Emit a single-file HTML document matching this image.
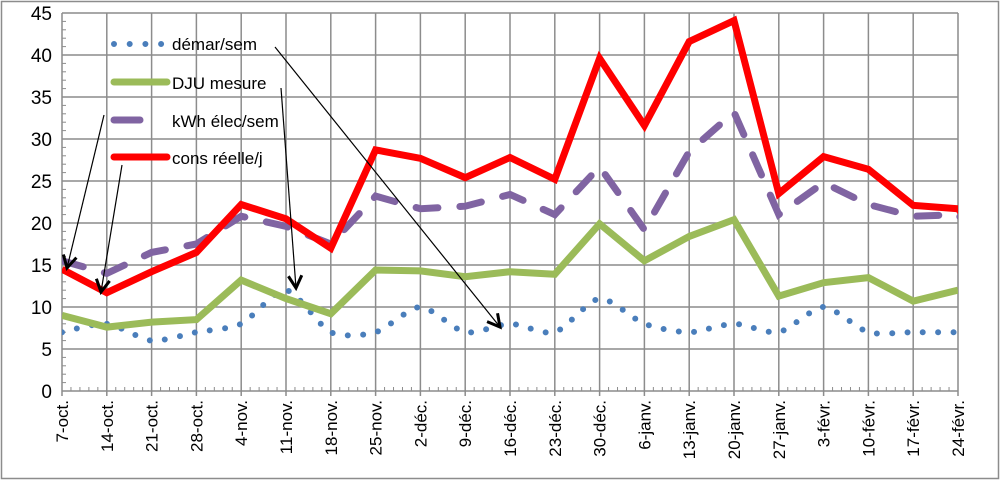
<!DOCTYPE html>
<html><head><meta charset="utf-8"><style>
html,body{margin:0;padding:0;background:#fff;}
svg{display:block;font-family:"Liberation Sans",sans-serif;}
</style></head><body>
<svg id="s" width="1000" height="480" xmlns="http://www.w3.org/2000/svg">
<rect x="1.5" y="1.5" width="997" height="477" fill="#fff" stroke="#8c8c8c" stroke-width="1.5"/>
<g id="grid"></g>
<g id="series"></g>
<g id="legend" font-size="17" fill="#000">
 <line x1="114" y1="44" x2="162" y2="44" stroke="#4a7ebb" stroke-width="6" stroke-linecap="round" stroke-dasharray="0 15.7"/>
 <text x="172" y="50">démar/sem</text>
 <line x1="114" y1="82" x2="167" y2="82" stroke="#9bbb59" stroke-width="7" stroke-linecap="round"/>
 <text x="172" y="89">DJU mesure</text>
 <line x1="114" y1="120" x2="140" y2="120" stroke="#8064a2" stroke-width="7" stroke-linecap="round"/>
 <text x="172" y="127">kWh élec/sem</text>
 <line x1="114" y1="157" x2="167" y2="157" stroke="#ff0000" stroke-width="7" stroke-linecap="round"/>
 <text x="172" y="164">cons réelle/j</text>
</g>
<g id="arrows" stroke="#000" fill="none"></g>
</svg>
<script>
const X0=62,DX=44.8,Y0=391,K=8.4;
const xs=i=>X0+i*DX, ys=v=>Y0-v*K;
const ns="http://www.w3.org/2000/svg";
function el(p,t,a,txt){const e=document.createElementNS(ns,t);for(const k in a)e.setAttribute(k,a[k]);if(txt!=null)e.textContent=txt;p.appendChild(e);return e;}
const g=document.getElementById('grid');
for(let v=0;v<=45;v+=5){el(g,'line',{x1:X0,x2:958,y1:ys(v),y2:ys(v),stroke:'#8c8c8c','stroke-width':1.5});
 el(g,'text',{x:52,y:ys(v)+7,'text-anchor':'end','font-size':19},String(v));}
for(let v=0;v<=45;v++){el(g,'line',{x1:X0,x2:X0+4,y1:ys(v),y2:ys(v),stroke:'#8c8c8c'});}
const labs=["7-oct.","14-oct.","21-oct.","28-oct.","4-nov.","11-nov.","18-nov.","25-nov.","2-déc.","9-déc.","16-déc.","23-déc.","30-déc.","6-janv.","13-janv.","20-janv.","27-janv.","3-févr.","10-févr.","17-févr.","24-févr."];
labs.forEach((l,i)=>{const x=xs(i);
 el(g,'line',{x1:x,x2:x,y1:ys(45),y2:Y0+5,stroke:'#8c8c8c','stroke-width':1.5});
 el(g,'text',{transform:`translate(${x+6},${Y0+9}) rotate(-90)`,'text-anchor':'end','font-size':17},l);});
for(let i=0;i<100;i++){const x=X0+i*DX/5;if(x>958)break;el(g,'line',{x1:x,x2:x,y1:Y0-4,y2:Y0,stroke:'#8c8c8c'});}
const s=document.getElementById('series');
const cp=el(s,'clipPath',{id:'cp'});el(cp,'rect',{x:X0,y:0,width:958-X0,height:400});
const blue=[7,8,6,7,8,12,7,7,10,7,8,7,11,8,7,8,7,10,7,7,7];
const green=[9,7.6,8.2,8.5,13.2,11,9.2,14.4,14.3,13.6,14.2,13.9,19.9,15.5,18.4,20.4,11.3,12.9,13.5,10.7,12];
const purple=[15.5,14,16.5,17.5,20.8,19.6,17.5,23.2,21.7,22,23.4,21,26.7,19.2,28.5,33.2,21,24.8,22.2,20.8,21,15];
const red=[14.5,11.7,14.2,16.5,22.2,20.5,17,28.7,27.7,25.4,27.8,25.2,39.6,31.6,41.6,44.1,23.5,27.9,26.4,22.1,21.7,15];
function poly(d){return d.map((v,i)=>xs(i)+','+ys(v)).join(' ');}
function smooth(d){const P=d.map((v,i)=>[xs(i),ys(v)]);let p=`M${P[0]}`;
 for(let i=0;i<P.length-1;i++){const a=P[i-1]||P[i],b=P[i],c=P[i+1],e=P[i+2]||c;
 const c1=[b[0]+(c[0]-a[0])/8,b[1]+(c[1]-a[1])/8],c2=[c[0]-(e[0]-b[0])/8,c[1]-(e[1]-b[1])/8];
 p+=`C${c1} ${c2} ${c}`;}return p;}
const gc=el(s,'g',{'clip-path':'url(#cp)'});
el(gc,'path',{d:smooth(blue),fill:'none',stroke:'#4a7ebb','stroke-width':6,'stroke-linecap':'round','stroke-dasharray':'0 15.3'});
el(gc,'polyline',{points:poly(green),fill:'none',stroke:'#9bbb59','stroke-width':7,'stroke-linejoin':'miter'});
el(gc,'polyline',{points:poly(purple),fill:'none',stroke:'#8064a2','stroke-width':7,'stroke-linecap':'round','stroke-dasharray':'22 22'});
el(gc,'polyline',{points:poly(red),fill:'none',stroke:'#ff0000','stroke-width':7});
const A=document.getElementById('arrows');
[[104,115,67,268],[122,165,101,292],[281,88,296,288],[275,47,500,327]].forEach(([x1,y1,x2,y2])=>{
 el(A,'line',{x1,y1,x2,y2,'stroke-width':1.2});
 const ang=Math.atan2(y2-y1,x2-x1),L=14,w=0.5;
 const p1=[x2-L*Math.cos(ang-w),y2-L*Math.sin(ang-w)],p2=[x2-L*Math.cos(ang+w),y2-L*Math.sin(ang+w)];
 el(A,'polyline',{points:`${p1} ${x2},${y2} ${p2}`,'stroke-width':3});});
</script>
</body></html>
